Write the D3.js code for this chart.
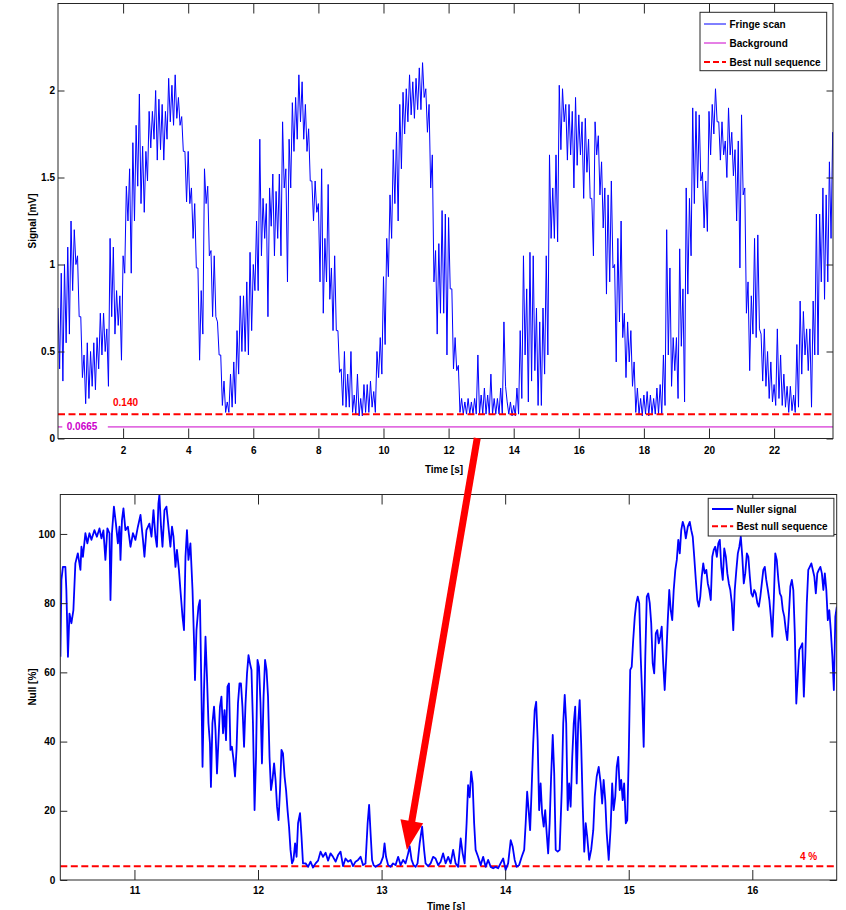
<!DOCTYPE html>
<html>
<head>
<meta charset="utf-8">
<script src="https://cdn.jsdelivr.net/npm/d3@7"></script>
<style>
  html, body { margin: 0; padding: 0; background: #ffffff; }
  svg { display: block; }
</style>
</head>
<body>
<svg id="chart" width="846" height="910"></svg>
<script>
// ---------------- DATA ----------------
// Upper panel: fringe scan, read every 0.1 s as upper / lower edge of the noisy trace
const fringeStart = 0.0;
const fringeStep = 0.1;
const fringeHigh = [
  0.75,0.95,1.00,1.10,1.25,1.20,1.05,0.70,0.48,0.55,
  0.50,0.55,0.58,0.72,0.72,0.63,1.15,1.10,0.85,0.82,
  1.05,1.45,1.55,1.70,1.80,1.98,1.68,1.65,1.88,1.88,
  2.00,1.95,1.92,1.88,2.07,2.03,2.09,1.96,1.85,1.65,
  1.65,1.44,1.35,0.98,0.85,1.55,1.45,1.08,1.05,0.67,
  0.48,0.33,0.21,0.37,0.44,0.62,0.82,0.82,0.90,1.07,
  1.00,1.25,1.72,1.38,1.35,1.44,1.52,1.42,1.52,1.82,
  1.55,1.72,1.93,1.96,2.09,2.05,1.92,1.78,1.48,1.48,
  1.35,1.55,1.15,1.46,0.98,1.05,0.62,0.40,0.50,0.37,
  0.50,0.25,0.37,0.23,0.31,0.31,0.33,0.27,0.50,0.58,
  0.93,1.15,1.40,1.66,1.76,1.92,1.99,2.01,2.09,2.05,
  2.07,2.13,2.16,2.01,1.92,1.63,1.08,1.12,1.31,1.29,
  1.27,0.86,0.58,0.42,0.23,0.21,0.23,0.21,0.23,0.48,
  0.25,0.29,0.25,0.37,0.23,0.23,0.29,0.67,0.21,0.21,
  0.19,0.29,0.62,1.05,0.86,1.07,1.05,0.75,0.67,0.75,
  1.05,1.63,1.44,1.63,2.03,2.01,1.92,1.92,1.88,1.96,
  1.86,1.82,1.84,1.72,1.38,1.82,1.74,1.59,1.44,1.40,
  1.48,1.00,1.15,1.25,0.72,0.67,0.62,0.44,0.29,0.23,
  0.25,0.27,0.25,0.23,0.29,0.31,0.48,1.20,0.98,0.58,
  0.58,1.09,0.86,1.44,1.38,1.90,1.88,1.86,1.53,1.48,
  1.88,1.92,2.01,1.82,1.82,1.71,1.90,1.76,1.66,1.71,
  1.86,1.44,0.90,0.82,1.15,1.17,0.60,0.63,0.50,0.44,
  0.31,0.63,0.48,0.37,0.30,0.30,0.25,0.54,0.79,0.73,
  0.63,0.63,0.79,1.29,1.29,1.44,1.40,1.59,1.76
];
const fringeLow = [
  0.40,0.33,0.55,0.60,0.85,1.00,0.70,0.35,0.20,0.23,
  0.30,0.28,0.40,0.48,0.50,0.30,0.70,0.60,0.65,0.45,
  0.95,1.25,0.95,1.25,1.45,1.35,1.30,1.48,1.67,1.72,
  1.60,1.66,1.60,1.72,1.82,1.80,1.84,1.80,1.65,1.36,
  1.35,1.15,0.98,0.45,0.60,1.35,1.05,0.70,0.70,0.48,
  0.19,0.15,0.15,0.18,0.20,0.37,0.50,0.50,0.48,0.62,
  0.85,0.85,1.05,1.15,0.70,1.22,1.05,1.15,1.05,1.44,
  0.90,1.44,1.65,1.72,1.82,1.72,1.65,1.48,1.25,1.30,
  0.90,0.72,0.90,0.80,0.62,0.62,0.38,0.19,0.18,0.18,
  0.15,0.14,0.13,0.13,0.15,0.15,0.18,0.15,0.35,0.37,
  0.54,0.93,1.15,1.35,1.25,1.55,1.75,1.82,1.86,1.84,
  1.89,1.89,1.96,1.76,1.44,0.90,0.60,0.72,0.72,0.48,
  0.86,0.40,0.39,0.15,0.14,0.14,0.14,0.14,0.14,0.14,
  0.14,0.14,0.14,0.14,0.14,0.14,0.14,0.30,0.14,0.13,
  0.13,0.14,0.23,0.48,0.21,0.33,0.39,0.19,0.19,0.37,
  0.48,1.15,1.15,1.13,1.66,1.82,1.60,1.63,1.44,1.57,
  1.63,1.38,1.53,1.38,1.05,1.63,1.40,1.21,0.83,0.90,
  0.98,0.44,0.67,0.58,0.35,0.44,0.30,0.15,0.14,0.13,
  0.14,0.13,0.14,0.14,0.14,0.14,0.19,0.48,0.30,0.39,
  0.23,0.53,0.21,0.83,1.05,1.35,1.44,1.48,1.21,1.19,
  1.63,1.75,1.82,1.60,1.63,1.50,1.63,1.51,1.25,0.98,
  1.40,0.72,0.39,0.60,0.58,0.63,0.33,0.30,0.23,0.21,
  0.19,0.23,0.19,0.18,0.15,0.16,0.15,0.18,0.37,0.48,
  0.39,0.18,0.48,0.48,0.90,0.80,0.90,1.15,1.35
];
const backgroundLevel = 0.0665;      // mV
const bestNullLevel = 0.140;         // mV
const bestNullPercent = 4;           // %

// Lower panel: nuller signal (time in s, null in %)
const nullTime = [
10.401,10.409,10.421,10.441,10.449,10.462,10.474,10.490,10.506,10.522,10.542,10.563,10.571,10.583,10.603,10.619,10.636,10.652,10.676,10.696,
10.717,10.733,10.749,10.765,10.781,10.798,10.806,10.818,10.834,10.850,10.866,10.879,10.887,10.899,10.911,10.927,10.947,10.968,10.988,11.008,
11.028,11.049,11.069,11.081,11.097,11.121,11.138,11.154,11.170,11.182,11.194,11.202,11.215,11.227,11.243,11.259,11.275,11.291,11.304,11.316,
11.332,11.344,11.360,11.372,11.389,11.401,11.413,11.425,11.437,11.453,11.470,11.482,11.490,11.502,11.518,11.530,11.542,11.551,11.563,11.575,
11.587,11.599,11.611,11.619,11.631,11.644,11.656,11.668,11.680,11.692,11.704,11.717,11.729,11.741,11.753,11.765,11.777,11.789,11.802,11.814,
11.826,11.838,11.850,11.862,11.874,11.887,11.899,11.911,11.923,11.935,11.947,11.959,11.972,11.984,11.996,12.008,12.020,12.032,12.045,12.057,
12.069,12.081,12.093,12.105,12.117,12.130,12.142,12.154,12.166,12.178,12.190,12.202,12.215,12.227,12.239,12.251,12.263,12.275,12.287,12.300,
12.312,12.324,12.340,12.352,12.364,12.385,12.405,12.425,12.445,12.466,12.486,12.506,12.526,12.547,12.567,12.587,12.607,12.628,12.648,12.668,
12.688,12.708,12.729,12.749,12.769,12.789,12.810,12.830,12.850,12.870,12.887,12.899,12.911,12.923,12.935,12.951,12.972,12.992,13.012,13.024,
13.036,13.053,13.073,13.093,13.113,13.134,13.154,13.174,13.194,13.215,13.227,13.243,13.259,13.275,13.291,13.308,13.328,13.344,13.356,13.377,
13.397,13.417,13.437,13.458,13.478,13.498,13.518,13.539,13.559,13.579,13.599,13.620,13.640,13.656,13.672,13.688,13.700,13.713,13.725,13.737,
13.749,13.761,13.781,13.802,13.822,13.842,13.862,13.883,13.903,13.923,13.943,13.963,13.984,14.004,14.024,14.045,14.061,14.077,14.093,14.113,
14.134,14.154,14.166,14.178,14.190,14.202,14.214,14.227,14.239,14.251,14.263,14.275,14.287,14.299,14.312,14.324,14.336,14.348,14.360,14.372,
14.385,14.397,14.409,14.425,14.441,14.458,14.470,14.482,14.494,14.506,14.518,14.530,14.543,14.555,14.567,14.579,14.591,14.603,14.615,14.628,
14.640,14.652,14.664,14.680,14.696,14.713,14.725,14.741,14.757,14.773,14.785,14.797,14.810,14.822,14.838,14.854,14.866,14.878,14.891,14.903,
14.915,14.927,14.939,14.951,14.963,14.976,14.988,15.000,15.012,15.024,15.036,15.049,15.061,15.073,15.085,15.097,15.109,15.121,15.134,15.146,
15.158,15.170,15.182,15.194,15.206,15.219,15.231,15.243,15.255,15.267,15.279,15.291,15.304,15.316,15.328,15.340,15.352,15.364,15.377,15.389,
15.401,15.413,15.425,15.437,15.449,15.462,15.478,15.494,15.506,15.518,15.530,15.543,15.555,15.567,15.579,15.591,15.603,15.615,15.628,15.640,
15.652,15.664,15.676,15.688,15.700,15.713,15.725,15.737,15.749,15.761,15.773,15.786,15.798,15.810,15.822,15.834,15.846,15.858,15.871,15.883,
15.895,15.907,15.919,15.931,15.943,15.956,15.968,15.980,15.992,16.004,16.016,16.028,16.041,16.053,16.065,16.077,16.089,16.101,16.113,16.126,
16.138,16.150,16.162,16.174,16.186,16.198,16.211,16.223,16.235,16.247,16.259,16.271,16.283,16.295,16.308,16.320,16.332,16.344,16.356,16.368,
16.380,16.393,16.405,16.417,16.429,16.441,16.453,16.465,16.478,16.490,16.502,16.514,16.526,16.538,16.551,16.563,16.575,16.587,16.599,16.611,
16.623,16.635,16.648,16.660,16.672,16.684
];
const nullValue = [
64.5,86.7,90.5,90.5,83.8,64.5,77.0,74.2,78.0,91.5,94.4,89.6,96.3,93.4,100.2,97.3,100.2,98.3,101.1,99.2,
101.6,98.7,101.0,92.5,101.6,100.2,80.9,100.2,107.9,103.0,97.3,102.1,92.5,104.0,107.4,101.1,102.1,96.3,100.2,98.3,
102.1,105.5,98.3,93.4,101.1,103.0,99.2,106.9,99.2,96.3,108.8,111.3,102.1,96.3,106.9,107.9,102.1,96.3,102.1,99.2,
90.5,95.4,89.6,83.8,76.1,72.2,93.4,101.1,92.5,97.3,83.8,69.3,57.8,72.2,79.0,80.9,54.9,32.7,54.9,70.3,
58.7,45.3,39.5,26.9,45.3,50.1,43.3,30.8,40.4,50.1,53.0,42.4,49.1,40.4,55.9,56.8,37.6,38.5,34.7,29.9,
37.6,51.1,56.8,56.8,50.1,38.5,51.1,59.7,65.0,62.6,60.7,45.3,20.2,35.6,63.6,61.6,51.1,33.7,53.0,63.6,
60.7,53.0,35.6,26.0,28.9,33.7,28.9,21.2,17.3,26.0,37.6,36.6,29.9,26.0,20.2,15.4,8.7,4.8,5.8,10.6,
6.7,16.4,19.3,12.5,4.8,4.8,3.8,5.3,3.6,4.8,5.6,8.2,6.7,7.9,5.6,7.7,6.7,5.3,7.2,8.2,
4.0,6.2,5.3,5.8,4.0,5.3,5.8,6.7,4.3,4.8,16.4,21.7,13.5,5.8,4.3,3.8,4.3,4.8,6.7,10.6,
6.7,4.3,3.8,4.8,4.3,6.7,4.3,5.8,4.8,7.7,9.8,5.8,4.3,3.8,4.8,10.6,15.4,8.7,4.8,4.0,
4.8,6.7,6.2,4.3,5.3,7.7,4.8,6.7,4.8,8.7,4.8,3.8,12.0,7.7,4.8,16.4,27.4,23.9,31.3,27.9,
16.4,8.7,6.7,4.3,6.7,3.8,5.8,3.8,3.4,3.8,3.4,4.8,6.2,2.9,4.8,11.5,9.6,5.8,3.8,4.3,
6.7,8.7,16.4,25.5,20.2,14.4,26.0,39.5,49.1,51.5,40.4,20.2,27.9,19.3,15.4,20.2,13.5,7.7,16.4,29.9,
41.9,30.8,8.7,8.2,8.7,26.0,45.3,53.5,45.3,20.2,27.9,21.2,35.6,45.3,50.1,27.9,45.3,52.0,39.5,21.2,
8.2,16.4,12.5,5.8,8.7,14.4,24.1,29.9,32.7,27.9,22.1,28.9,23.1,13.5,5.8,15.4,27.9,20.2,24.1,32.7,
35.6,26.0,28.9,23.1,27.9,16.4,17.3,35.6,60.7,61.6,69.3,76.1,80.0,81.9,80.0,64.5,53.0,38.5,64.5,81.9,
82.8,80.0,74.2,62.6,59.7,71.3,72.2,68.4,70.3,73.2,62.6,54.9,64.5,75.1,83.8,78.0,75.1,83.8,89.6,92.5,
98.3,94.4,101.1,103.5,102.1,98.7,102.1,103.5,101.1,99.2,93.4,86.7,80.9,79.0,81.9,87.7,91.5,88.6,89.6,85.7,
83.8,80.9,93.4,95.4,96.3,93.4,97.3,98.3,90.5,86.7,95.8,93.4,88.6,85.7,83.8,80.0,72.2,83.8,89.6,94.4,
96.3,99.2,93.4,85.7,88.6,94.4,93.4,87.7,82.8,81.9,83.8,82.8,80.0,79.0,81.9,85.7,89.6,90.5,86.7,83.8,
80.9,76.1,70.3,80.9,94.4,92.5,86.7,82.8,81.9,78.0,76.1,72.2,69.3,76.1,84.8,86.7,83.8,71.3,51.0,58.7,
66.5,67.4,68.4,53.0,64.5,80.0,89.6,90.5,91.5,89.6,87.7,82.8,88.6,89.6,90.5,88.6,83.8,88.6,83.8,75.1,
78.0,72.2,64.5,54.9,76.1,79.0
];

// Axis ranges and ticks
const topTimeRange = [0, 23.81];
const topSignalRange = [0, 2.5];
const bottomTimeRange = [10.4, 16.683];
const bottomNullRange = [0, 111.4];
const topXTicks = [2, 4, 6, 8, 10, 12, 14, 16, 18, 20, 22];
const topYTicks = [0, 0.5, 1, 1.5, 2];
const bottomXTicks = [11, 12, 13, 14, 15, 16];
const bottomYTicks = [0, 20, 40, 60, 80, 100];

// Texts
const xAxisTitle = "Time [s]";
const topYAxisTitle = "Signal [mV]";
const bottomYAxisTitle = "Null [%]";
const topLegendLabels = ["Fringe scan", "Background", "Best null sequence"];
const bottomLegendLabels = ["Nuller signal", "Best null sequence"];

// Arrow from the null zone of the scan to the zoomed view (data coordinates)
const arrowStart = { t: 12.88, v: 0.002 };   // upper panel
const arrowEnd = { t: 13.205, v: 8.7 };      // lower panel

// ---------------- DRAWING ----------------
const FONT = '"Liberation Sans", Arial, Helvetica, sans-serif';
const BLUE = "#0000ff", MAGENTA = "#cc00cc", RED = "#ff0000", FRAME = "#262626";
const svg = d3.select("#chart");

const topBox = { left: 58, right: 833, top: 3.5, bottom: 438.5 };
const botBox = { left: 60.3, right: 836.7, top: 494.5, bottom: 880 };

const xTop = d3.scaleLinear().domain(topTimeRange).range([topBox.left, topBox.right]);
const yTop = d3.scaleLinear().domain(topSignalRange).range([topBox.bottom, topBox.top]);
const xBot = d3.scaleLinear().domain(bottomTimeRange).range([botBox.left, botBox.right]);
const yBot = d3.scaleLinear().domain(bottomNullRange).range([botBox.bottom, botBox.top]);

const defs = svg.append("defs");
function clip(id, b) {
  defs.append("clipPath").attr("id", id).append("rect")
    .attr("x", b.left).attr("y", b.top).attr("width", b.right - b.left).attr("height", b.bottom - b.top);
}
clip("clipTop", topBox);
clip("clipBot", botBox);

function drawAxes(x, y, b, xTicks, yTicks, opt) {
  const g = svg.append("g");
  const fmt = d => String(d);
  g.append("g").attr("transform", `translate(0,${b.bottom})`)
    .call(d3.axisBottom(x).tickValues(xTicks).tickSize(-opt.xLen).tickSizeOuter(0).tickPadding(opt.xPad).tickFormat(fmt));
  g.append("g").attr("transform", `translate(0,${b.top})`)
    .call(d3.axisTop(x).tickValues(xTicks).tickSize(-opt.xLen).tickSizeOuter(0).tickFormat(""));
  g.append("g").attr("transform", `translate(${b.left},0)`)
    .call(d3.axisLeft(y).tickValues(yTicks).tickSize(-opt.yLen).tickSizeOuter(0).tickPadding(opt.yPad).tickFormat(fmt));
  g.append("g").attr("transform", `translate(${b.right},0)`)
    .call(d3.axisRight(y).tickValues(yTicks).tickSize(-opt.yLen).tickSizeOuter(0).tickFormat(""));
  g.selectAll(".domain").remove();
  g.selectAll("g").attr("font-family", FONT).attr("font-size", 10);
  g.selectAll(".tick line").attr("stroke", FRAME).attr("stroke-width", 1);
  g.selectAll(".tick text").attr("fill", "#000").attr("font-weight", "bold");
  g.append("rect").attr("x", b.left).attr("y", b.top)
    .attr("width", b.right - b.left).attr("height", b.bottom - b.top)
    .attr("fill", "none").attr("stroke", FRAME).attr("stroke-width", 1);
  return g;
}

function label(x, y, txt, opts = {}) {
  return svg.append("text").attr("x", x).attr("y", y)
    .attr("font-family", FONT).attr("font-size", opts.size || 10).attr("font-weight", "bold")
    .attr("fill", opts.color || "#000").attr("text-anchor", opts.anchor || "start")
    .attr("transform", opts.rotate ? `rotate(-90,${x},${y})` : null)
    .text(txt);
}

// ---- upper panel ----
const topPlot = svg.append("g").attr("clip-path", "url(#clipTop)");
const fringePts = [];
fringeHigh.forEach((h, i) => {
  const t = fringeStart + i * fringeStep;
  fringePts.push([t, h]);
  fringePts.push([t + fringeStep / 2, fringeLow[i]]);
});
topPlot.append("path").datum(fringePts)
  .attr("d", d3.line().x(d => xTop(d[0])).y(d => yTop(d[1])))
  .attr("fill", "none").attr("stroke", BLUE).attr("stroke-width", 1).attr("stroke-linejoin", "miter");

topPlot.append("path").datum(topTimeRange)
  .attr("d", d3.line().x(d => xTop(d)).y(() => yTop(backgroundLevel)))
  .attr("fill", "none").attr("stroke", MAGENTA).attr("stroke-width", 1);

topPlot.append("path").datum(topTimeRange)
  .attr("d", d3.line().x(d => xTop(d)).y(() => yTop(bestNullLevel)))
  .attr("fill", "none").attr("stroke", RED).attr("stroke-width", 2).attr("stroke-dasharray", "7,3.5");

// value labels
label(xTop(1.69), yTop(bestNullLevel) - 8.5, bestNullLevel.toFixed(3), { color: RED });
const bgText = label(xTop(0.27), yTop(backgroundLevel) + 3.5, String(backgroundLevel), { color: MAGENTA });
const bb = bgText.node().getBBox();
svg.insert("rect", () => bgText.node())
  .attr("x", bb.x - 4.5).attr("y", yTop(backgroundLevel) - 3)
  .attr("width", bb.width + 14.5).attr("height", 6).attr("fill", "#fff");

drawAxes(xTop, yTop, topBox, topXTicks, topYTicks, { xLen: 10, yLen: 6.5, xPad: 8.4, yPad: 3 });
label((topBox.left + topBox.right) / 2 - 1.5, 472.5, xAxisTitle, { anchor: "middle" });
label(36, (topBox.top + topBox.bottom) / 2, topYAxisTitle, { anchor: "middle", rotate: true });

// top legend
function drawLegend(box, labels, styles) {
  const g = svg.append("g");
  g.append("rect").attr("x", box.x).attr("y", box.y).attr("width", box.w).attr("height", box.h)
    .attr("fill", "#fff").attr("stroke", FRAME).attr("stroke-width", 1);
  labels.forEach((lab, i) => {
    const cy = box.y + box.first + i * box.gap;
    const s = styles[i];
    g.append("line").attr("x1", box.x + box.lx1).attr("x2", box.x + box.lx2).attr("y1", cy).attr("y2", cy)
      .attr("stroke", s.color).attr("stroke-width", s.width).attr("stroke-dasharray", s.dash || null);
    g.append("text").attr("x", box.x + box.tx).attr("y", cy + 3.6)
      .attr("font-family", FONT).attr("font-size", 10).attr("font-weight", "bold").attr("fill", "#000").text(lab);
  });
}
drawLegend({ x: 700, y: 12.3, w: 126.7, h: 58.4, first: 11.7, gap: 19, lx1: 4, lx2: 26, tx: 29.5 },
  topLegendLabels,
  [{ color: BLUE, width: 1 }, { color: MAGENTA, width: 1 }, { color: RED, width: 2, dash: "6,3" }]);

// ---- lower panel ----
const botPlot = svg.append("g").attr("clip-path", "url(#clipBot)");
botPlot.append("path").datum(bottomTimeRange)
  .attr("d", d3.line().x(d => xBot(d)).y(() => yBot(bestNullPercent)))
  .attr("fill", "none").attr("stroke", RED).attr("stroke-width", 2).attr("stroke-dasharray", "7,3.5");
botPlot.append("path").datum(nullTime.map((t, i) => [t, nullValue[i]]))
  .attr("d", d3.line().x(d => xBot(d[0])).y(d => yBot(d[1])))
  .attr("fill", "none").attr("stroke", BLUE).attr("stroke-width", 1.8).attr("stroke-linejoin", "round");

label(xBot(16.385), yBot(bestNullPercent) - 6, bestNullPercent + " %", { color: RED });

drawAxes(xBot, yBot, botBox, bottomXTicks, bottomYTicks, { xLen: 10, yLen: 7, xPad: 7, yPad: 5 });
label((botBox.left + botBox.right) / 2 - 2.5, 909.5, xAxisTitle, { anchor: "middle" });
label(35.5, 687, bottomYAxisTitle, { anchor: "middle", rotate: true });

drawLegend({ x: 708.2, y: 498.3, w: 125.7, h: 37.7, first: 10.7, gap: 17.3, lx1: 3.8, lx2: 25, tx: 28.3 },
  bottomLegendLabels,
  [{ color: BLUE, width: 2 }, { color: RED, width: 2, dash: "6,3" }]);

// ---- arrow ----
const p0 = [xTop(arrowStart.t), yTop(arrowStart.v)];
const p1 = [xBot(arrowEnd.t), yBot(arrowEnd.v)];
const dx = p1[0] - p0[0], dy = p1[1] - p0[1];
const len = Math.hypot(dx, dy);
const ux = dx / len, uy = dy / len;
const headLen = 29, headHalf = 11.5;
const base = [p1[0] - ux * headLen, p1[1] - uy * headLen];
svg.append("line").attr("x1", p0[0]).attr("y1", p0[1]).attr("x2", base[0] + ux * 2).attr("y2", base[1] + uy * 2)
  .attr("stroke", RED).attr("stroke-width", 7);
svg.append("polygon").attr("points", [
  p1,
  [base[0] - uy * headHalf, base[1] + ux * headHalf],
  [base[0] + uy * headHalf, base[1] - ux * headHalf]
].map(p => p.join(",")).join(" ")).attr("fill", RED);
</script>
</body>
</html>
